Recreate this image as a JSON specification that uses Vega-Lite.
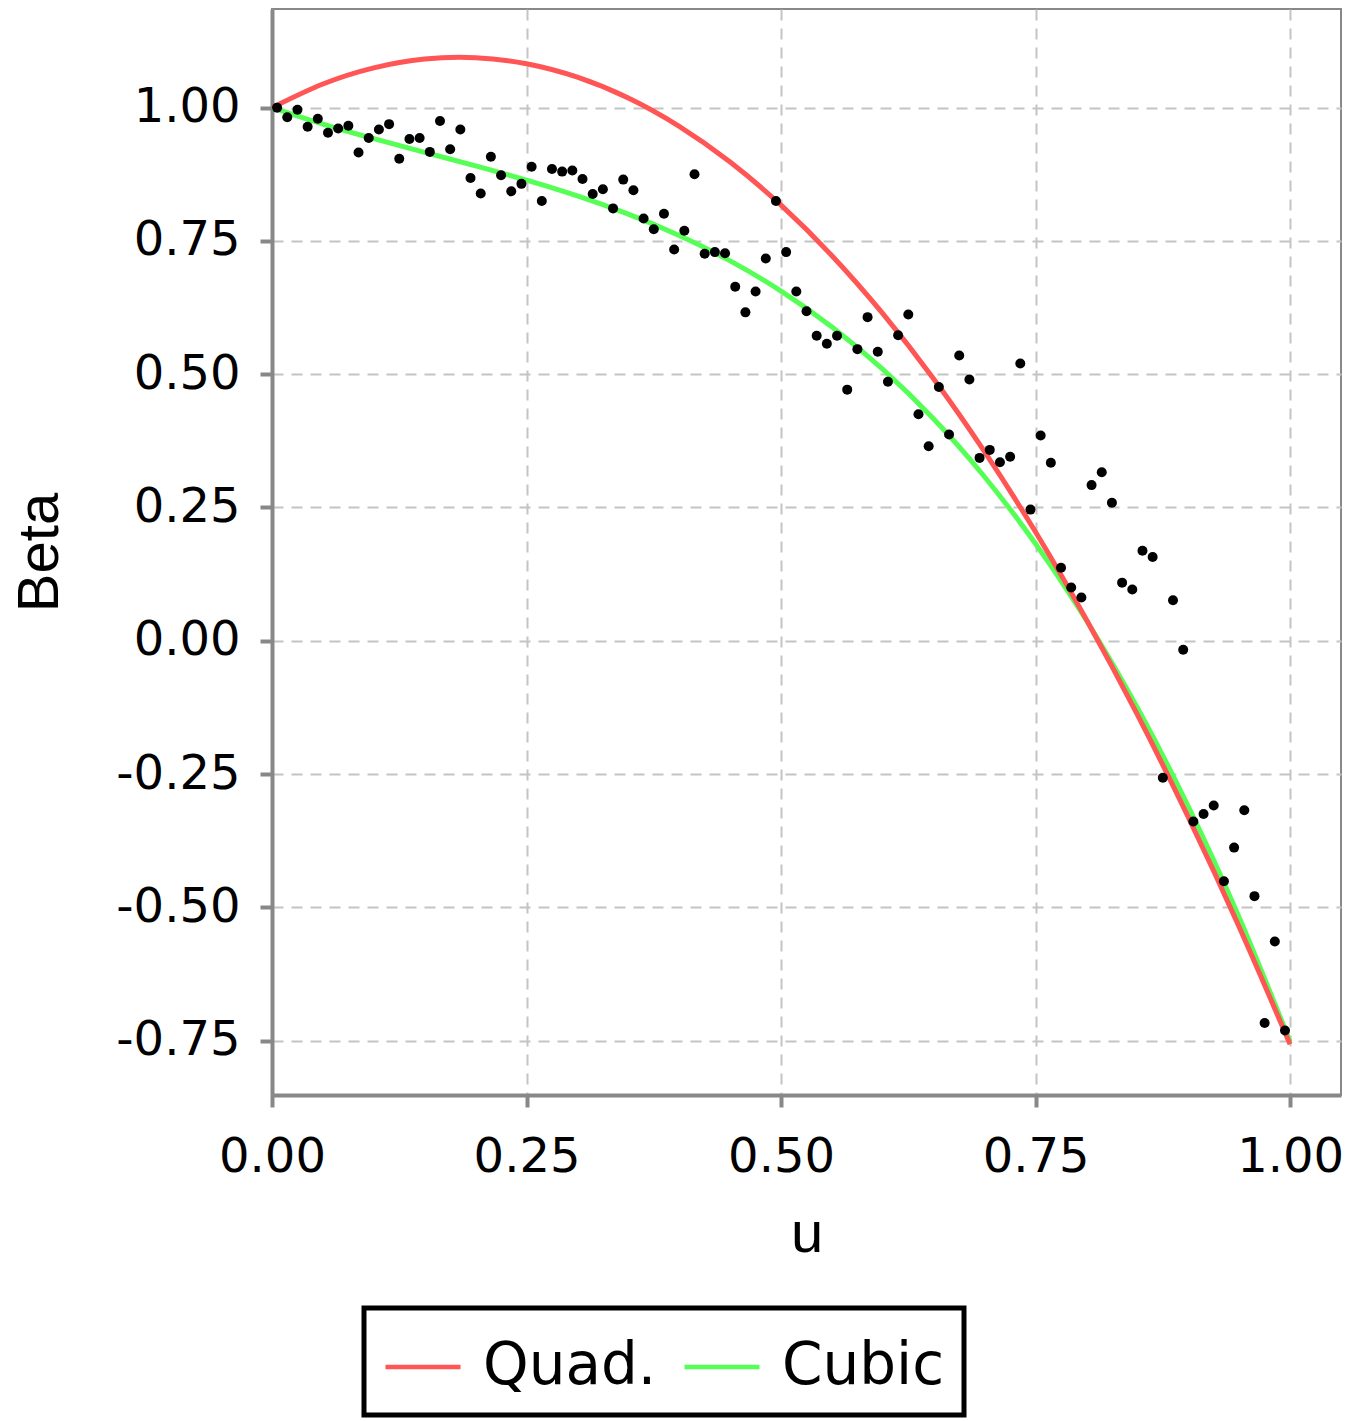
{
  "$schema": "https://vega.github.io/schema/vega-lite/v6.json",
  "width": 1069,
  "height": 1086,
  "autosize": {"type": "none"},
  "padding": {"left": 272, "top": 9, "right": 13, "bottom": 326},
  "background": "white",
  "datasets": {
    "curves": [
      {"u": 0.00, "beta": 1.0000, "model": "Quad."},
      {"u": 0.05, "beta": 1.0443, "model": "Quad."},
      {"u": 0.10, "beta": 1.0747, "model": "Quad."},
      {"u": 0.15, "beta": 1.0912, "model": "Quad."},
      {"u": 0.20, "beta": 1.0937, "model": "Quad."},
      {"u": 0.25, "beta": 1.0824, "model": "Quad."},
      {"u": 0.30, "beta": 1.0571, "model": "Quad."},
      {"u": 0.35, "beta": 1.0180, "model": "Quad."},
      {"u": 0.40, "beta": 0.9649, "model": "Quad."},
      {"u": 0.45, "beta": 0.8979, "model": "Quad."},
      {"u": 0.50, "beta": 0.8170, "model": "Quad."},
      {"u": 0.55, "beta": 0.7222, "model": "Quad."},
      {"u": 0.60, "beta": 0.6135, "model": "Quad."},
      {"u": 0.65, "beta": 0.4909, "model": "Quad."},
      {"u": 0.70, "beta": 0.3543, "model": "Quad."},
      {"u": 0.75, "beta": 0.2039, "model": "Quad."},
      {"u": 0.80, "beta": 0.0395, "model": "Quad."},
      {"u": 0.85, "beta": -0.1387, "model": "Quad."},
      {"u": 0.90, "beta": -0.3309, "model": "Quad."},
      {"u": 0.95, "beta": -0.5370, "model": "Quad."},
      {"u": 1.00, "beta": -0.7570, "model": "Quad."},
      {"u": 0.00, "beta": 1.0000, "model": "Cubic"},
      {"u": 0.05, "beta": 0.9692, "model": "Cubic"},
      {"u": 0.10, "beta": 0.9418, "model": "Cubic"},
      {"u": 0.15, "beta": 0.9161, "model": "Cubic"},
      {"u": 0.20, "beta": 0.8907, "model": "Cubic"},
      {"u": 0.25, "beta": 0.8639, "model": "Cubic"},
      {"u": 0.30, "beta": 0.8343, "model": "Cubic"},
      {"u": 0.35, "beta": 0.8002, "model": "Cubic"},
      {"u": 0.40, "beta": 0.7601, "model": "Cubic"},
      {"u": 0.45, "beta": 0.7125, "model": "Cubic"},
      {"u": 0.50, "beta": 0.6559, "model": "Cubic"},
      {"u": 0.55, "beta": 0.5885, "model": "Cubic"},
      {"u": 0.60, "beta": 0.5090, "model": "Cubic"},
      {"u": 0.65, "beta": 0.4158, "model": "Cubic"},
      {"u": 0.70, "beta": 0.3072, "model": "Cubic"},
      {"u": 0.75, "beta": 0.1819, "model": "Cubic"},
      {"u": 0.80, "beta": 0.0381, "model": "Cubic"},
      {"u": 0.85, "beta": -0.1256, "model": "Cubic"},
      {"u": 0.90, "beta": -0.3109, "model": "Cubic"},
      {"u": 0.95, "beta": -0.5191, "model": "Cubic"},
      {"u": 1.00, "beta": -0.7520, "model": "Cubic"}
    ],
    "pts": [
      {"u": 0.005, "beta": 1.000}, {"u": 0.015, "beta": 0.982}, {"u": 0.025, "beta": 0.996}, {"u": 0.035, "beta": 0.964}, {"u": 0.045, "beta": 0.979},
      {"u": 0.055, "beta": 0.953}, {"u": 0.065, "beta": 0.961}, {"u": 0.075, "beta": 0.966}, {"u": 0.085, "beta": 0.916}, {"u": 0.095, "beta": 0.943},
      {"u": 0.105, "beta": 0.959}, {"u": 0.115, "beta": 0.969}, {"u": 0.125, "beta": 0.904}, {"u": 0.135, "beta": 0.941}, {"u": 0.145, "beta": 0.943},
      {"u": 0.155, "beta": 0.917}, {"u": 0.165, "beta": 0.975}, {"u": 0.175, "beta": 0.922}, {"u": 0.185, "beta": 0.959}, {"u": 0.195, "beta": 0.868},
      {"u": 0.205, "beta": 0.839}, {"u": 0.215, "beta": 0.908}, {"u": 0.225, "beta": 0.873}, {"u": 0.235, "beta": 0.843}, {"u": 0.245, "beta": 0.857},
      {"u": 0.255, "beta": 0.889}, {"u": 0.265, "beta": 0.825}, {"u": 0.275, "beta": 0.885}, {"u": 0.285, "beta": 0.880}, {"u": 0.295, "beta": 0.882},
      {"u": 0.305, "beta": 0.866}, {"u": 0.315, "beta": 0.838}, {"u": 0.325, "beta": 0.847}, {"u": 0.335, "beta": 0.811}, {"u": 0.345, "beta": 0.865},
      {"u": 0.355, "beta": 0.845}, {"u": 0.365, "beta": 0.792}, {"u": 0.375, "beta": 0.772}, {"u": 0.385, "beta": 0.801}, {"u": 0.395, "beta": 0.734},
      {"u": 0.405, "beta": 0.769}, {"u": 0.415, "beta": 0.875}, {"u": 0.425, "beta": 0.726}, {"u": 0.435, "beta": 0.729}, {"u": 0.445, "beta": 0.727},
      {"u": 0.455, "beta": 0.664}, {"u": 0.465, "beta": 0.616}, {"u": 0.475, "beta": 0.655}, {"u": 0.485, "beta": 0.717}, {"u": 0.495, "beta": 0.825},
      {"u": 0.505, "beta": 0.729}, {"u": 0.515, "beta": 0.655}, {"u": 0.525, "beta": 0.618}, {"u": 0.535, "beta": 0.572}, {"u": 0.545, "beta": 0.557},
      {"u": 0.555, "beta": 0.572}, {"u": 0.565, "beta": 0.471}, {"u": 0.575, "beta": 0.547}, {"u": 0.585, "beta": 0.607}, {"u": 0.595, "beta": 0.542},
      {"u": 0.605, "beta": 0.486}, {"u": 0.615, "beta": 0.573}, {"u": 0.625, "beta": 0.612}, {"u": 0.635, "beta": 0.425}, {"u": 0.645, "beta": 0.365},
      {"u": 0.655, "beta": 0.476}, {"u": 0.665, "beta": 0.387}, {"u": 0.675, "beta": 0.535}, {"u": 0.685, "beta": 0.490}, {"u": 0.695, "beta": 0.343},
      {"u": 0.705, "beta": 0.358}, {"u": 0.715, "beta": 0.335}, {"u": 0.725, "beta": 0.345}, {"u": 0.735, "beta": 0.520}, {"u": 0.745, "beta": 0.246},
      {"u": 0.755, "beta": 0.385}, {"u": 0.765, "beta": 0.334}, {"u": 0.775, "beta": 0.137}, {"u": 0.785, "beta": 0.100}, {"u": 0.795, "beta": 0.081},
      {"u": 0.805, "beta": 0.292}, {"u": 0.815, "beta": 0.316}, {"u": 0.825, "beta": 0.259}, {"u": 0.835, "beta": 0.109}, {"u": 0.845, "beta": 0.096},
      {"u": 0.855, "beta": 0.169}, {"u": 0.865, "beta": 0.157}, {"u": 0.875, "beta": -0.257}, {"u": 0.885, "beta": 0.076}, {"u": 0.895, "beta": -0.017},
      {"u": 0.905, "beta": -0.339}, {"u": 0.915, "beta": -0.325}, {"u": 0.925, "beta": -0.309}, {"u": 0.935, "beta": -0.451}, {"u": 0.945, "beta": -0.388},
      {"u": 0.955, "beta": -0.318}, {"u": 0.965, "beta": -0.479}, {"u": 0.975, "beta": -0.717}, {"u": 0.985, "beta": -0.564}, {"u": 0.995, "beta": -0.731}
    ]
  },
  "encoding": {
    "x": {
      "field": "u", "type": "quantitative",
      "scale": {"domain": [0, 1.05], "nice": false, "zero": false},
      "axis": {
        "title": "u",
        "values": [0, 0.25, 0.5, 0.75, 1],
        "format": ".2f",
        "labelFlush": false,
        "labelOverlap": false,
        "labelPadding": 26,
        "titlePadding": 24
      }
    },
    "y": {
      "field": "beta", "type": "quantitative",
      "scale": {"domain": [-0.852, 1.185], "nice": false, "zero": false},
      "axis": {
        "title": "Beta",
        "values": [-0.75, -0.5, -0.25, 0, 0.25, 0.5, 0.75, 1],
        "format": ".2f",
        "labelExpr": "replace(datum.label, '\u2212', '-')",
        "labelOverlap": false,
        "labelPadding": 20,
        "titlePadding": 46
      }
    }
  },
  "layer": [
    {
      "data": {"name": "curves"},
      "transform": [{"filter": "datum.model === 'Cubic'"}],
      "mark": {"type": "line", "strokeWidth": 5, "interpolate": "natural", "clip": true},
      "encoding": {
        "color": {
          "field": "model", "type": "nominal",
          "scale": {"domain": ["Quad.", "Cubic"], "range": ["#ff5555", "#55ff55"]},
          "legend": {
            "title": null,
            "orient": "none",
            "legendX": 92,
            "legendY": 1299,
            "direction": "horizontal",
            "strokeColor": "black",
            "fillColor": "white",
            "padding": 19,
            "symbolType": "stroke",
            "symbolSize": 5625,
            "symbolStrokeWidth": 4.5,
            "labelFontSize": 58,
            "labelFont": "DejaVu Sans",
            "labelColor": "black",
            "labelOffset": 20,
            "labelLimit": 400,
            "columnPadding": 18
          }
        }
      }
    },
    {
      "data": {"name": "curves"},
      "transform": [{"filter": "datum.model === 'Quad.'"}],
      "mark": {"type": "line", "strokeWidth": 5, "interpolate": "natural", "clip": true},
      "encoding": {
        "color": {
          "field": "model", "type": "nominal",
          "scale": {"domain": ["Quad.", "Cubic"], "range": ["#ff5555", "#55ff55"]}
        }
      }
    },
    {
      "data": {"name": "pts"},
      "mark": {"type": "circle", "size": 100, "color": "black", "opacity": 1}
    }
  ],
  "config": {
    "view": {"stroke": "#888888", "strokeWidth": 2},
    "legend": {"strokeWidth": 5},
    "axis": {
      "grid": true,
      "gridColor": "#c4c4c4",
      "gridWidth": 2,
      "gridDash": [11, 8],
      "domainColor": "#888888",
      "domainWidth": 4,
      "tickColor": "#888888",
      "tickWidth": 4,
      "tickSize": 12,
      "labelFont": "DejaVu Sans",
      "labelFontSize": 48,
      "labelColor": "black",
      "titleFont": "Liberation Sans",
      "titleFontSize": 58,
      "titleFontWeight": "normal",
      "titleColor": "black"
    }
  }
}
